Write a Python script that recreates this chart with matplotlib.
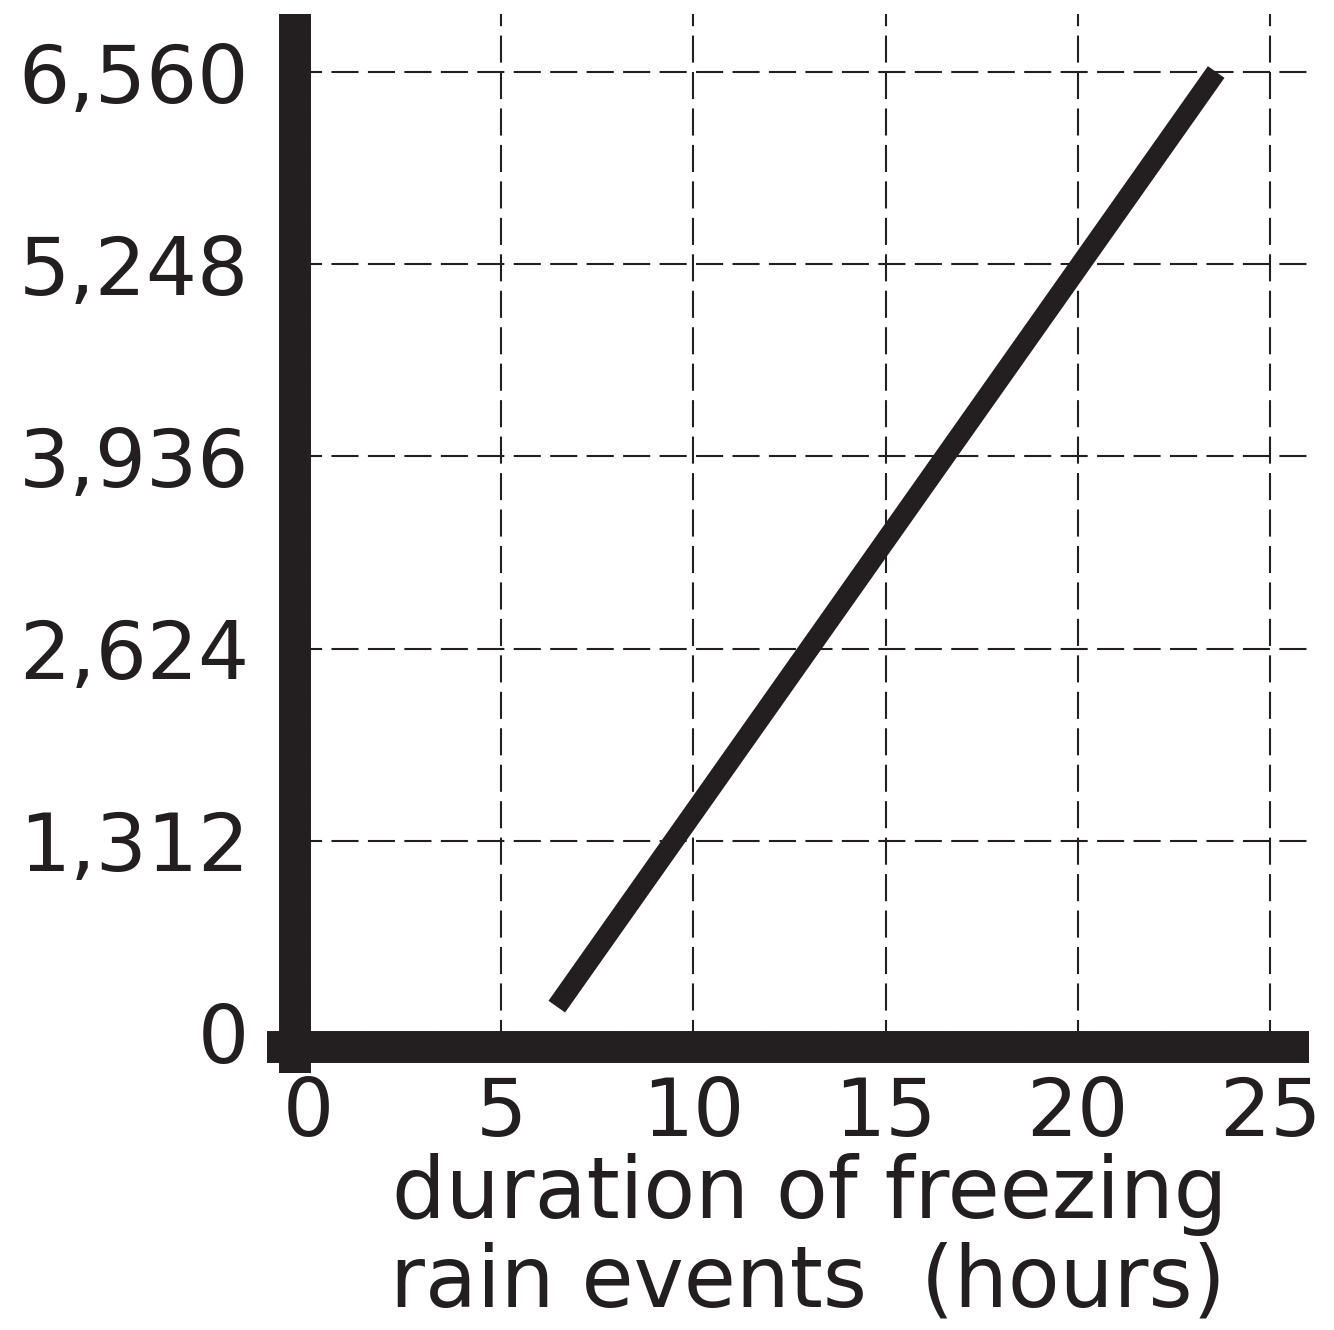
import matplotlib
matplotlib.use("Agg")
import matplotlib.pyplot as plt
from matplotlib.lines import Line2D

# data
hours = [6.45, 23.6]
values = [180, 6560]
x_ticks = [0, 5, 10, 15, 20, 25]
y_ticks = [0, 1312, 2624, 3936, 5248, 6560]
y_tick_labels = ["0", "1,312", "2,624", "3,936", "5,248", "6,560"]
xlabel_lines = ["duration of freezing", "rain events  (hours)"]

INK = "#231f20"

fig = plt.figure(figsize=(13.34, 13.30), dpi=100)
ax = fig.add_axes([0.22114, 0.21241, 0.76087, 0.77707])

ax.set_xlim(-0.359, 26.04)
ax.set_ylim(-99, 6956)

ax.plot(hours, values, color=INK, lw=14.6, solid_capstyle="butt", zorder=3)

ax.set_xticks(x_ticks)
ax.set_yticks(y_ticks)
ax.set_yticklabels(y_tick_labels)
ax.tick_params(length=0, labelsize=58, colors=INK)
ax.tick_params(axis="y", pad=33)
ax.tick_params(axis="x", pad=20)
for lab in ax.get_xticklabels() + ax.get_yticklabels():
    lab.set_family("DejaVu Sans")

ax.grid(True, color=INK, lw=1.5, linestyle=(0, (13, 4.5)))
ax.set_axisbelow(True)

for s in ax.spines.values():
    s.set_visible(False)

ax.add_line(Line2D([0, 0], [-0.0247, 1.0], transform=ax.transAxes, color=INK,
                   lw=23, solid_capstyle="butt", clip_on=False, zorder=4))
ax.add_line(Line2D([-0.0276, 0.999], [0, 0], transform=ax.transAxes, color=INK,
                   lw=23, solid_capstyle="butt", clip_on=False, zorder=4))

fig.text(810 / 1334, 1 - 1218 / 1330, xlabel_lines[0], ha="center", va="baseline",
         fontsize=61, family="DejaVu Sans", color=INK)
fig.text(808 / 1334, 1 - 1306 / 1330, xlabel_lines[1], ha="center", va="baseline",
         fontsize=61, family="DejaVu Sans", color=INK)

fig.savefig("out.png", dpi=100, facecolor="white")
